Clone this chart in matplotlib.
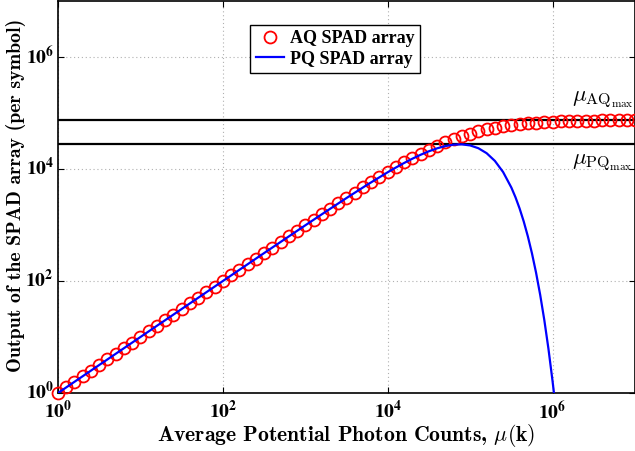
import matplotlib
matplotlib.use("Agg")
import matplotlib.pyplot as plt
import matplotlib.transforms as mtransforms
from matplotlib.ticker import FixedLocator, FuncFormatter, NullLocator

# ---- data ----
aq_x = [1.0, 1.259, 1.585, 1.995, 2.512, 3.162, 3.981, 5.012, 6.310, 7.943,
        10.0, 12.59, 15.85, 19.95, 25.12, 31.62, 39.81, 50.12, 63.10, 79.43,
        100.0, 125.9, 158.5, 199.5, 251.2, 316.2, 398.1, 501.2, 631.0, 794.3,
        1000, 1259, 1585, 1995, 2512, 3162, 3981, 5012, 6310, 7943,
        10000, 12589, 15849, 19953, 25119, 31623, 39811, 50119, 63096, 79433,
        100000, 125893, 158489, 199526, 251189, 316228, 398107, 501187, 630957, 794328,
        1000000, 1258925, 1584893, 1995262, 2511886, 3162278, 3981072, 5011872, 6309573, 7943282,
        10000000]
aq_y = [1.0, 1.259, 1.585, 1.995, 2.512, 3.162, 3.981, 5.012, 6.310, 7.942,
        10.0, 12.59, 15.85, 19.94, 25.11, 31.61, 39.79, 50.09, 63.05, 79.35,
        99.87, 125.7, 158.2, 199.0, 250.3, 314.9, 396.0, 497.9, 625.7, 786.0,
        986.8, 1238, 1552, 1943, 2431, 3034, 3780, 4698, 5820, 7182,
        8824, 10780, 13084, 15760, 18816, 22244, 26007, 30043, 34267, 38578,
        42857, 47001, 50912, 54510, 57756, 60621, 63110, 65241, 67032, 68530,
        69767, 70783, 71611, 72283, 72825, 73262, 73612, 73894, 74119, 74298,
        74442]

pq_x = [1.0, 3.162, 10.0, 31.62, 100.0, 316.2, 1000, 1778, 3162, 5623,
        10000, 12589, 15849, 19953, 25119, 31623, 39811, 50119, 63096, 79433,
        100000, 125893, 158489, 199526, 251189, 316228, 354813, 398107, 446684,
        501187, 562341, 630957, 707946, 794328, 891251, 1000000, 1047129]
pq_y = [1.0, 3.162, 10.0, 31.6, 99.9, 314.9, 986.8, 1736, 3031, 5217,
        8752, 10644, 12830, 15292, 17969, 20744, 23414, 25692, 27206, 27545,
        26360, 23496, 19155, 13953, 8819, 4665, 3129, 1971, 1157,
        627.4, 311.5, 140.0, 56.3, 19.97, 6.15, 1.62, 0.905]

aq_max = 75000
pq_max = 27591

x_ticks = [1e0, 1e2, 1e4, 1e6]
y_ticks = [1e0, 1e2, 1e4, 1e6]
tick_exp = {1e0: "0", 1e2: "2", 1e4: "4", 1e6: "6"}

# ---- figure ----
fig = plt.figure(figsize=(6.35, 4.51), dpi=100)
ax = fig.add_axes([58 / 635, 58 / 451, 577 / 635, 392 / 451])
ax.set_xscale("log")
ax.set_yscale("log")
ax.set_xlim(1, 1e7)
ax.set_ylim(1, 1e7)

ax.axhline(aq_max, color="black", lw=1.6, zorder=2)
ax.axhline(pq_max, color="black", lw=1.6, zorder=2)

ax.plot(aq_x, aq_y, linestyle="none", marker="o", markersize=8.6,
        markerfacecolor="none", markeredgecolor="red", markeredgewidth=1.3,
        label="AQ SPAD array", clip_on=False, zorder=3)
ax.plot(pq_x, pq_y, color="blue", lw=1.6, label="PQ SPAD array", zorder=4)

ax.xaxis.set_major_locator(FixedLocator(x_ticks))
ax.yaxis.set_major_locator(FixedLocator(y_ticks))
ax.xaxis.set_minor_locator(NullLocator())
ax.yaxis.set_minor_locator(NullLocator())
fmt = FuncFormatter(lambda v, p: r"$\mathbf{10^{%s}}$" % tick_exp.get(v, ""))
ax.xaxis.set_major_formatter(fmt)
ax.yaxis.set_major_formatter(fmt)
ax.tick_params(which="both", direction="in", length=4, width=0.8,
               labelsize=14, top=True, right=True)
for lab in ax.get_xticklabels() + ax.get_yticklabels():
    lab.set_math_fontfamily("stix")
ax.tick_params(axis="x", pad=5)
ax.tick_params(axis="y", pad=3)
# nudge y tick labels up slightly (as in the reference)
shift = mtransforms.ScaledTranslation(0, 2 / 72, fig.dpi_scale_trans)
for lab in ax.get_yticklabels():
    lab.set_transform(lab.get_transform() + shift)

ax.grid(True, which="major", linestyle=(0, (1, 2.5)), color="#b0b0b0", lw=0.8)
for s in ax.spines.values():
    s.set_linewidth(1.2)

ax.set_xlabel(r"Average Potential Photon Counts, $\mu(\mathbf{k})$",
              fontfamily="cmb10", fontsize=15.6, math_fontfamily="cm")
ax.xaxis.set_label_coords(0.5, -0.075)
ax.set_ylabel(r"Output of the SPAD array (per symbol)",
              fontfamily="cmb10", fontsize=14.3)
ax.yaxis.set_label_coords(-0.056, 0.505)

ax.text(10 ** 6.24, 10 ** 5.04, r"$\mu_{\mathrm{AQ}_{\max}}$", fontsize=16.5,
        math_fontfamily="cm", ha="left", va="bottom")
ax.text(10 ** 6.24, 10 ** 4.32, r"$\mu_{\mathrm{PQ}_{\max}}$", fontsize=16.5,
        math_fontfamily="cm", ha="left", va="top")

leg = ax.legend(loc="upper left", bbox_to_anchor=(0.333, 0.94),
                prop={"family": "Liberation Serif", "weight": "bold", "size": 13},
                fancybox=False, edgecolor="black", framealpha=1,
                handlelength=1.6, handletextpad=0.3, borderpad=0.3,
                labelspacing=0.2, borderaxespad=0)
leg.get_frame().set_linewidth(1.0)

fig.savefig("out.png", dpi=100)
